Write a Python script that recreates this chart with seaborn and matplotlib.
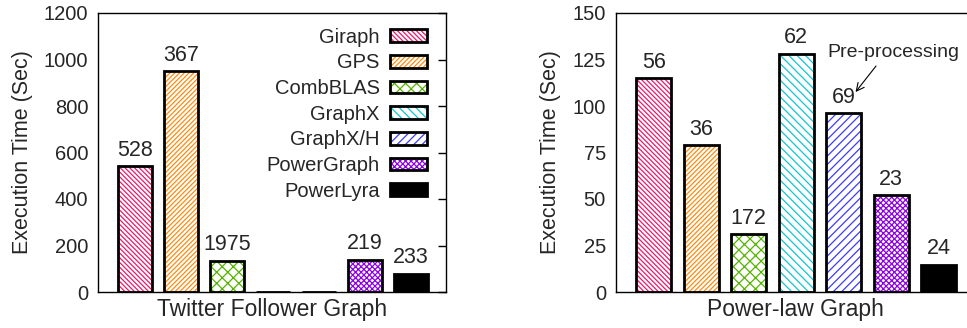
import matplotlib
matplotlib.use("Agg")
import matplotlib.pyplot as plt
import seaborn as sns
import pandas as pd
from matplotlib.patches import Patch
from matplotlib.legend_handler import HandlerTuple

systems = ["Giraph", "GPS", "CombBLAS", "GraphX", "GraphX/H", "PowerGraph", "PowerLyra"]
twitter_times = [540, 950, 135, 0, 0, 138, 78]
twitter_labels = ["528", "367", "1975", "", "", "219", "233"]
powerlaw_times = [115, 79, 31, 128, 96, 52, 14.5]
powerlaw_labels = ["56", "36", "172", "62", "69", "23", "24"]

colors = ["#f0186a", "#ff8c10", "#55b400", "#10c8d0", "#3c3cff", "#8c00e6", "#000000"]
hatches = ["\\" * 7, "/" * 7, "xxx", "\\" * 4, "////", "x" * 6, None]

sns.set_theme(style="white")
plt.rcParams["font.family"] = ["Liberation Sans", "DejaVu Sans"]
plt.rcParams["hatch.linewidth"] = 0.9

fig = plt.figure(figsize=(9.67, 3.28), dpi=100)
axL = fig.add_axes([98 / 967, 36 / 328, 348 / 967, 279 / 328])
axR = fig.add_axes([615.7 / 967, 36 / 328, 360 / 967, 279 / 328])

TICK_FS = 14.5
LABEL_FS = 15.5
VAL_FS = 15.5


def draw(ax, times, labels, ymax, yticks, xlabel, xlim, right_ticks):
    df = pd.DataFrame({"system": systems, "time": times})
    sns.barplot(data=df, x="system", y="time", hue="system", order=systems,
                hue_order=systems, palette=colors, width=0.74, legend=False, ax=ax,
                linewidth=0)
    bars = sorted(ax.patches, key=lambda p: p.get_x())
    for p, c, h in zip(bars, colors, hatches):
        if h is None:
            p.set_facecolor(c)
            p.set_edgecolor(c)
        else:
            p.set_facecolor("white")
            p.set_edgecolor(c)
            p.set_hatch(h)
        p.set_linewidth(0)
    n0 = len(ax.patches)
    sns.barplot(data=df, x="system", y="time", order=systems, color="white",
                width=0.74, ax=ax, linewidth=2.0, edgecolor="black")
    for p in ax.patches[n0:]:
        p.set_facecolor("none")
        p.set_edgecolor("black")
        p.set_linewidth(2.0)
        p.set_zorder(3)
    for i, (t, lab) in enumerate(zip(times, labels)):
        if lab:
            ax.annotate(lab, (i, t), xytext=(0, 4.0), textcoords="offset points",
                        ha="center", va="bottom", fontsize=VAL_FS)
    ax.set_xlim(*xlim)
    ax.set_ylim(0, ymax)
    ax.set_yticks(yticks)
    ax.set_yticklabels([str(v) for v in yticks], fontsize=TICK_FS)
    ax.set_xticks([])
    ax.set_xlabel(xlabel, fontsize=16.5, labelpad=4)
    ax.set_ylabel("Execution Time (Sec)", fontsize=LABEL_FS, labelpad=8)
    ax.tick_params(axis="y", which="both", left=False, right=right_ticks, direction="in",
                   length=6, width=1, color="black", pad=7)
    for s in ax.spines.values():
        s.set_visible(True)
        s.set_color("black")
        s.set_linewidth(1.0)


draw(axL, twitter_times, twitter_labels, 1200, [0, 200, 400, 600, 800, 1000, 1200],
     "Twitter Follower Graph", (-0.80, 6.77), True)
draw(axR, powerlaw_times, powerlaw_labels, 150, [0, 25, 50, 75, 100, 125, 150],
     "Power-law Graph", (-0.80, 6.78), False)

# legend
handles = []
for c, h in zip(colors, hatches):
    if h is None:
        handles.append(Patch(facecolor="black", edgecolor="black", linewidth=2.0))
    else:
        handles.append((Patch(facecolor="white", edgecolor=c, hatch=h, linewidth=0),
                        Patch(facecolor="none", edgecolor="black", linewidth=2.0)))
axL.legend(handles, systems, loc="upper right", bbox_to_anchor=(0.945, 0.947),
           frameon=False, markerfirst=False, fontsize=14.5, handlelength=1.85,
           handleheight=0.6, handletextpad=0.5, labelspacing=0.33, borderpad=0,
           borderaxespad=0, handler_map={tuple: HandlerTuple(ndivide=1, pad=0)})

# annotation
axR.annotate("Pre-processing", xy=(4.25, 107.5), xytext=(3.66, 129),
             fontsize=14, ha="left", va="center",
             arrowprops=dict(arrowstyle="->", color="black", lw=0.8,
                             shrinkA=2, shrinkB=0, relpos=(0.4, 0.0)))

fig.savefig("out.png", dpi=100)
